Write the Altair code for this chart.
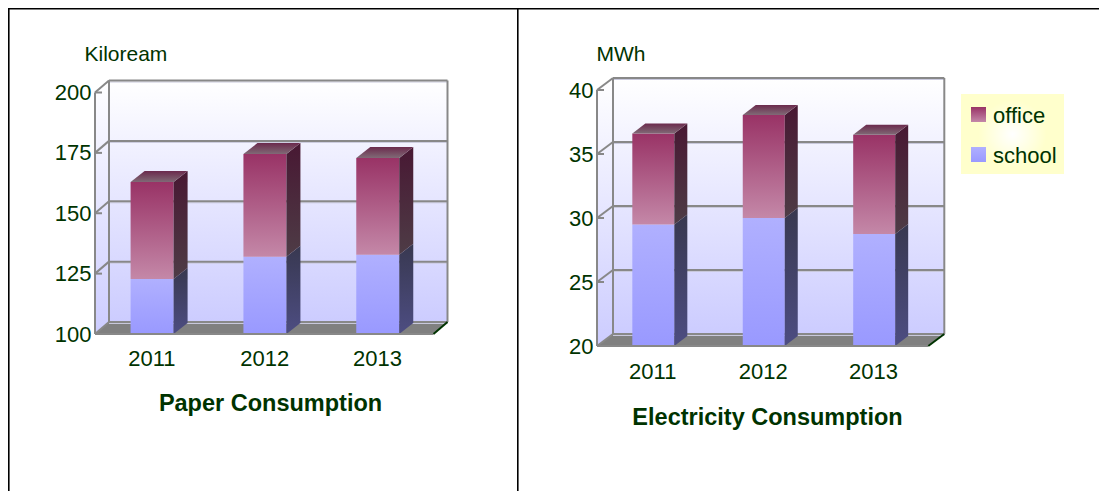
import altair as alt
import pandas as pd

years = [2011, 2012, 2013]
paper_school = [122.8, 132.0, 132.8]
paper_office = [40.1, 42.5, 40.1]
elec_school = [29.5, 30.0, 28.75]
elec_office = [7.1, 8.05, 7.75]
series_names = ["office", "school"]
paper_ticks = [100, 125, 150, 175, 200]
elec_ticks = [20, 25, 30, 35, 40]

TEXT = "#003300"
GREY = "#888888"
FONT = "Liberation Sans"


def grad(*colors, x1=0, x2=0, y1=0, y2=1):
    n = len(colors) - 1
    return alt.Gradient(
        gradient="linear",
        stops=[alt.GradientStop(offset=i / n, color=c) for i, c in enumerate(colors)],
        x1=x1, x2=x2, y1=y1, y2=y2,
    )


OFFICE_FRONT = grad("#993366", "#c488a8")
SCHOOL_FRONT = grad("#b0b0ff", "#9999ff")
OFFICE_SIDE = grad("#481833", "#4e3c46")
SCHOOL_SIDE = grad("#383850", "#4d4d82")
TOP_FACE = grad("#6b2a4d", "#806a76")
WALL = grad("#ffffff", "#ccccff")


def panel(width, height, xr, yr, ticks, school, office, wall_depth, bar_depth,
          bar_px, nudge, y_title, y_title_x, x_title, x_title_xy, label_pad, legend=False):
    """xr / yr: pixel ranges of the front plane; the back plane is offset by wall_depth."""
    px_x = (xr[1] - xr[0]) / 3
    lo, hi = ticks[0], ticks[-1]
    px_y = (yr[0] - yr[1]) / (hi - lo)
    xd, yd = wall_depth[0] / px_x, wall_depth[1] / px_y
    bxd, byd = bar_depth[0] / px_x, bar_depth[1] / px_y
    half = bar_px / 2 / px_x
    x0, x1 = years[0] - 0.5, years[-1] + 0.5
    xs = alt.Scale(domain=[x0, x1], range=list(xr), nice=False, zero=False)
    ys = alt.Scale(domain=[lo, hi], range=list(yr), nice=False, zero=False)

    x_axis = alt.Axis(
        values=years, format="d", orient="bottom", offset=yr[0] - height, domain=False, ticks=False,
        labelFont=FONT, labelFontSize=22, labelColor=TEXT, labelPadding=label_pad, grid=False,
        title=x_title, titleFont=FONT, titleFontSize=23.5, titleFontWeight="bold", titleColor=TEXT,
        titleX=x_title_xy[0], titleY=x_title_xy[1], titleAlign="center", titleBaseline="middle",
    )
    y_axis = alt.Axis(
        values=ticks, orient="left", offset=-xr[0], domain=False, ticks=False,
        labelFont=FONT, labelFontSize=22, labelColor=TEXT, labelPadding=4, grid=False,
        title=y_title, titleFont=FONT, titleFontSize=21, titleFontWeight="normal", titleColor=TEXT, titleAngle=0,
        titleX=y_title_x, titleY=46, titleAlign="left", titleBaseline="middle",
    )

    def X(f="x"):
        return alt.X(f + ":Q", scale=xs, axis=x_axis)

    def Y(f="y"):
        return alt.Y(f + ":Q", scale=ys, axis=y_axis)

    layers = []
    # back wall
    back = pd.DataFrame({"x": [x0 + xd], "x2": [x1 + xd], "y": [lo + yd], "y2": [hi + yd]})
    layers.append(alt.Chart(back).mark_rect(color=WALL).encode(
        x=X(), x2="x2:Q", y=Y(), y2="y2:Q"))
    # left wall
    lw = pd.DataFrame({"x": [x0, x0 + xd], "y": [lo, lo + yd], "y2": [hi, hi + yd]})
    layers.append(alt.Chart(lw).mark_area(color=WALL).encode(x=X(), y=Y(), y2="y2:Q"))
    # floor
    fl = pd.DataFrame({"y": [lo, lo + yd], "x": [x0, x0 + xd], "x2": [x1, x1 + xd]})
    layers.append(alt.Chart(fl).mark_area(orient="horizontal", color="#808080").encode(
        x=X(), x2="x2:Q", y=Y()))
    # light shadow under back wall lines, then lines themselves
    grid = pd.DataFrame({"y": [t + yd for t in ticks], "x": x0 + xd, "x2": x1 + xd})
    layers.append(alt.Chart(grid).mark_rule(color="#c8c8dc", strokeWidth=1).encode(
        x=X(), x2="x2:Q", y=Y(), yOffset=alt.value(1.5)))
    layers.append(alt.Chart(grid).mark_rule(color=GREY, strokeWidth=2).encode(
        x=X(), x2="x2:Q", y=Y()))
    # slanted wall lines and inner ticks
    slant = pd.DataFrame([
        {"t": t, "x": x, "y": t + d}
        for t in ticks for x, d in ((x0, 0), (x0 + xd, yd))
    ])
    layers.append(alt.Chart(slant).mark_line(color=GREY, strokeWidth=2).encode(
        x=X(), y=Y(), detail="t:N"))
    tick_df = pd.DataFrame({"y": ticks, "x": x0, "x2": x0 + 7 / px_x})
    layers.append(alt.Chart(tick_df).mark_rule(color=GREY, strokeWidth=2).encode(
        x=X(), x2="x2:Q", y=Y()))
    # verticals
    vert = pd.DataFrame({"x": [x0, x0 + xd, x1 + xd], "y": [lo, lo + yd, lo + yd], "y2": [hi, hi + yd, hi + yd]})
    layers.append(alt.Chart(vert).mark_rule(color=GREY, strokeWidth=2).encode(
        x=X(), y=Y(), y2="y2:Q"))
    # bars
    tops = [s + o for s, o in zip(school, office)]
    rows = []
    for yr_, s, t in zip(years, school, tops):
        rows.append({"bar": yr_, "name": "school", "a": lo, "b": s, "l": yr_ + nudge - half, "r": yr_ + nudge + half})
        rows.append({"bar": yr_, "name": "office", "a": s, "b": t, "l": yr_ + nudge - half, "r": yr_ + nudge + half})
    bars = pd.DataFrame(rows)
    for name, front, side in (("school", SCHOOL_FRONT, SCHOOL_SIDE), ("office", OFFICE_FRONT, OFFICE_SIDE)):
        d = bars[bars.name == name]
        layers.append(alt.Chart(d).mark_rect(color=front).encode(
            x=X("l"), x2="r:Q", y=Y("a"), y2="b:Q"))
        side_rows = []
        for _, r in d.iterrows():
            side_rows.append({"bar": r.bar, "x": r.r, "y": r.a, "y2": r.b})
            side_rows.append({"bar": r.bar, "x": r.r + bxd, "y": r.a + byd, "y2": r.b + byd})
        layers.append(alt.Chart(pd.DataFrame(side_rows)).mark_area(color=side).encode(
            x=X(), y=Y(), y2="y2:Q", detail="bar:N"))
    top_rows = []
    for yr_, t in zip(years, tops):
        l, r = yr_ + nudge - half, yr_ + nudge + half
        top_rows.append({"bar": yr_, "y": t, "x": l, "x2": r})
        top_rows.append({"bar": yr_, "y": t + byd, "x": l + bxd, "x2": r + bxd})
    layers.append(alt.Chart(pd.DataFrame(top_rows)).mark_area(orient="horizontal", color=TOP_FACE).encode(
        x=X(), x2="x2:Q", y=Y(), detail="bar:N"))
    # front floor line and right-hand corner
    front_line = pd.DataFrame({"x": [x0], "x2": [x1], "y": [lo]})
    layers.append(alt.Chart(front_line).mark_rule(color=GREY, strokeWidth=2).encode(
        x=X(), x2="x2:Q", y=Y()))
    corner = pd.DataFrame({"x": [x1, x1 + xd], "y": [lo, lo + yd]})
    layers.append(alt.Chart(corner).mark_line(color=TEXT, strokeWidth=2).encode(x=X(), y=Y()))

    if legend:
        lx, ly = legend
        layers.append(alt.Chart(pd.DataFrame({"v": [1]})).mark_rect(
            color=alt.Gradient(gradient="radial",
                               stops=[alt.GradientStop(offset=0, color="#ffffff"),
                                      alt.GradientStop(offset=0.55, color="#ffffcc"),
                                      alt.GradientStop(offset=1, color="#ffffcc")],
                               x1=0.5, y1=0.5, r1=0, x2=0.5, y2=0.5, r2=0.6)
        ).encode(x=alt.value(lx), x2=alt.value(lx + 103), y=alt.value(ly), y2=alt.value(ly + 80)))
        for i, (nm, fill) in enumerate(zip(series_names, (OFFICE_FRONT, SCHOOL_FRONT))):
            sy = ly + 13 + 40 * i
            layers.append(alt.Chart(pd.DataFrame({"name": [nm]})).mark_rect(color=fill).encode(
                x=alt.value(lx + 10), x2=alt.value(lx + 25), y=alt.value(sy), y2=alt.value(sy + 15)))
            layers.append(alt.Chart(pd.DataFrame({"name": [nm]})).mark_text(
                align="left", baseline="middle", font=FONT, fontSize=22, color=TEXT
            ).encode(text="name:N", x=alt.value(lx + 32), y=alt.value(sy + 9)))
    return layers, width, height


HEIGHT = 483


def frame(width):
    one = pd.DataFrame({"v": [1]})
    return [
        alt.Chart(one).mark_rect(color="black").encode(
            x=alt.value(0), x2=alt.value(width), y=alt.value(0), y2=alt.value(1.6)),
        alt.Chart(one).mark_rect(color="black").encode(
            x=alt.value(0), x2=alt.value(1.6), y=alt.value(0), y2=alt.value(HEIGHT)),
    ]


X0 = 517
l1, w1, h1 = panel(509, HEIGHT, (87, 425.5), (326, 84.5), paper_ticks, paper_school, paper_office,
                   (14, 12), (14, 11), 43, 0.006, "Kiloream", -11, "Paper Consumption",
                   (262, 69), 14)
l2, w2, h2 = panel(582, HEIGHT, (597 - X0, 928.3 - X0), (338, 82), elec_ticks, elec_school, elec_office,
                   (16, 12), (13, 10), 42, 0.01, "MWh", -1, "Electricity Consumption",
                   (767 - X0, 71), 15, legend=(961 - X0, 86))

c1 = alt.layer(*(l1 + frame(509))).properties(width=w1, height=h1)
c2 = alt.layer(*(l2 + frame(582))).properties(width=w2, height=h2)

chart = alt.hconcat(c1, c2, spacing=0).properties(
    padding=0, background="white"
).configure_view(stroke=None)

chart.save("out.html", embed_options={"renderer": "svg", "actions": False})
